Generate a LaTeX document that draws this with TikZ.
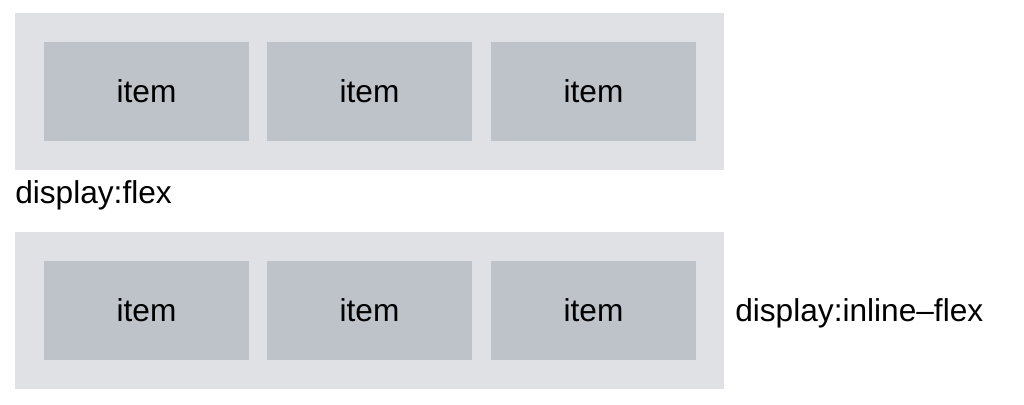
\documentclass[tikz,border=0pt]{standalone}
\usepackage{fontspec}
\setmainfont{Liberation Sans}
\definecolor{boxgray}{HTML}{DFE1E5}
\definecolor{itemgray}{HTML}{BEC2C9}
\begin{document}
\begin{tikzpicture}
            [x=0.025cm, y=-0.025cm,
            every node/.style={inner sep=0pt, font=\fontsize{22.5}{27}\selectfont},
            container/.style={fill=boxgray, minimum width=17.725cm, minimum height=3.925cm},
            flexitem/.style={fill=itemgray, minimum width=5.125cm, minimum height=2.475cm}]
            \useasboundingbox (0,0) rectangle (1024,405);
            % the two containers
            \node[container] (flex) at (369.5,91.5) {};
            \node[container] (inline) at (369.5,310.5) {};
            % their items
            \foreach \x/\n in {146.5/a, 369.5/b, 593.5/c} {
                \node[flexitem] (flex-\n) at (\x,91.5) {\raisebox{-1.5pt}{item}};
                \node[flexitem] (inline-\n) at (\x,310.5) {\raisebox{-1.5pt}{item}};
            }
            \node[anchor=base west] (flexlabel) at (15,204) {display:flex};
            \node[anchor=base west] (inlinelabel) at (735,322) {display:inline\textendash flex};
        \end{tikzpicture}
\end{document}
